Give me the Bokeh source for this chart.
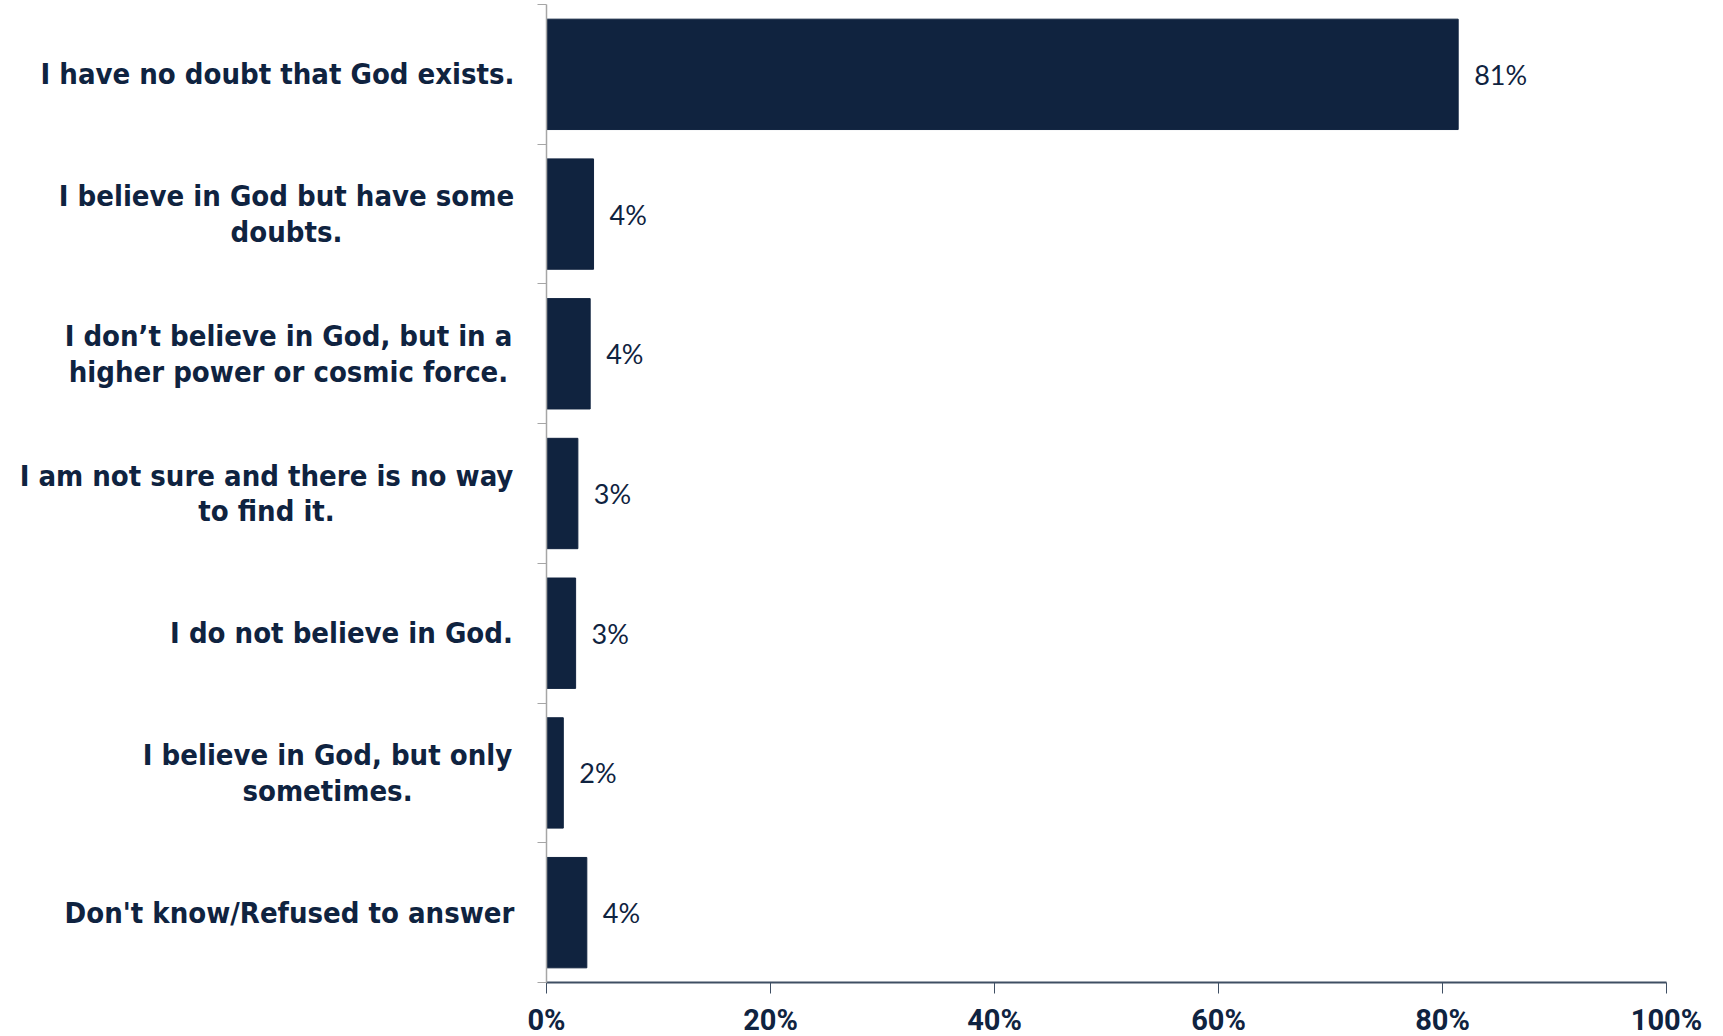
from bokeh.plotting import figure
from bokeh.layouts import row
from bokeh.models import (Range1d, LinearAxis, FixedTicker, PrintfTickFormatter)
from bokeh.core.properties import value
from bokeh.embed import file_html
from bokeh.resources import INLINE

categories = [
    "I have no doubt that God exists.",
    "I believe in God but have some\ndoubts.",
    "I don\u2019t believe in God, but in a\nhigher power or cosmic force.",
    "I am not sure and there is no way\nto find it.",
    "I do not believe in God.",
    "I believe in God, but only\nsometimes.",
    "Don't know/Refused to answer",
]
values = [81.4, 4.2, 3.9, 2.8, 2.6, 1.5, 3.6]
value_labels = ["81%", "4%", "4%", "3%", "3%", "2%", "4%"]
x_ticks = [0, 20, 40, 60, 80, 100]

# layout only: horizontal centre (px) of each centred label block in the label panel
label_centers = [277, 286, 288, 266, 341, 327, 289]

n = len(categories)
centers = [n - i - 0.5 for i in range(n)]  # first category on top
bounds = list(range(n + 1))

NAVY = "#10233f"
TEXT = "#0f2340"
LABEL_W = 526

yr = Range1d(0, n)

# label panel
pl = figure(frame_width=LABEL_W, frame_height=978,
            x_range=Range1d(0, LABEL_W), y_range=yr,
            output_backend="svg", toolbar_location=None,
            x_axis_location=None, y_axis_location=None,
            min_border_left=0, min_border_right=0,
            min_border_top=4, min_border_bottom=0)
pl.outline_line_color = None
pl.xgrid.visible = False
pl.ygrid.visible = False
pl.text(x=label_centers, y=centers, text=categories,
        text_align="center", text_baseline="middle",
        text_font=value("DejaVu Sans Condensed"), text_font_style="bold",
        text_font_size="29px", text_color=TEXT, text_line_height=1.05)

# main chart
p = figure(frame_width=1120, frame_height=978,
           y_range=yr, x_range=Range1d(0, 100),
           output_backend="svg", toolbar_location=None,
           x_axis_location=None, y_axis_location=None,
           min_border_left=546 - LABEL_W, min_border_right=54,
           min_border_top=4, min_border_bottom=50)
p.outline_line_color = None
p.xgrid.visible = False
p.ygrid.visible = False

p.hbar(y=centers, right=values, left=0, height=0.79, color=NAVY)
p.text(x=values, y=centers, text=value_labels, x_offset=16,
       text_baseline="middle", text_align="left",
       text_font=value("Lato"), text_font_size="27px", text_color=TEXT)

# y axis with ticks at category boundaries
tick_axis = LinearAxis(ticker=FixedTicker(ticks=bounds),
                       major_label_overrides={b: "" for b in bounds})
tick_axis.major_tick_out = 9
tick_axis.major_tick_in = 0
tick_axis.minor_tick_line_color = None
tick_axis.major_tick_line_color = "#a6a6a6"
tick_axis.axis_line_color = "#a6a6a6"
tick_axis.axis_line_width = 1.5
tick_axis.major_label_standoff = 0
p.add_layout(tick_axis, "left")

xaxis = LinearAxis(ticker=FixedTicker(ticks=x_ticks),
                   formatter=PrintfTickFormatter(format="%d%%"))
xaxis.axis_line_color = "#3f4f63"
xaxis.axis_line_width = 2
xaxis.major_tick_line_color = "#3f4f63"
xaxis.major_tick_out = 11
xaxis.major_tick_in = 0
xaxis.minor_tick_line_color = None
xaxis.major_label_standoff = 9
xaxis.major_label_text_font = "Roboto"
xaxis.major_label_text_font_style = "bold"
xaxis.major_label_text_font_size = "29px"
xaxis.major_label_text_color = TEXT
p.add_layout(xaxis, "below")

layout = row(pl, p, spacing=0)
open("out.html", "w").write(file_html(layout, INLINE))
